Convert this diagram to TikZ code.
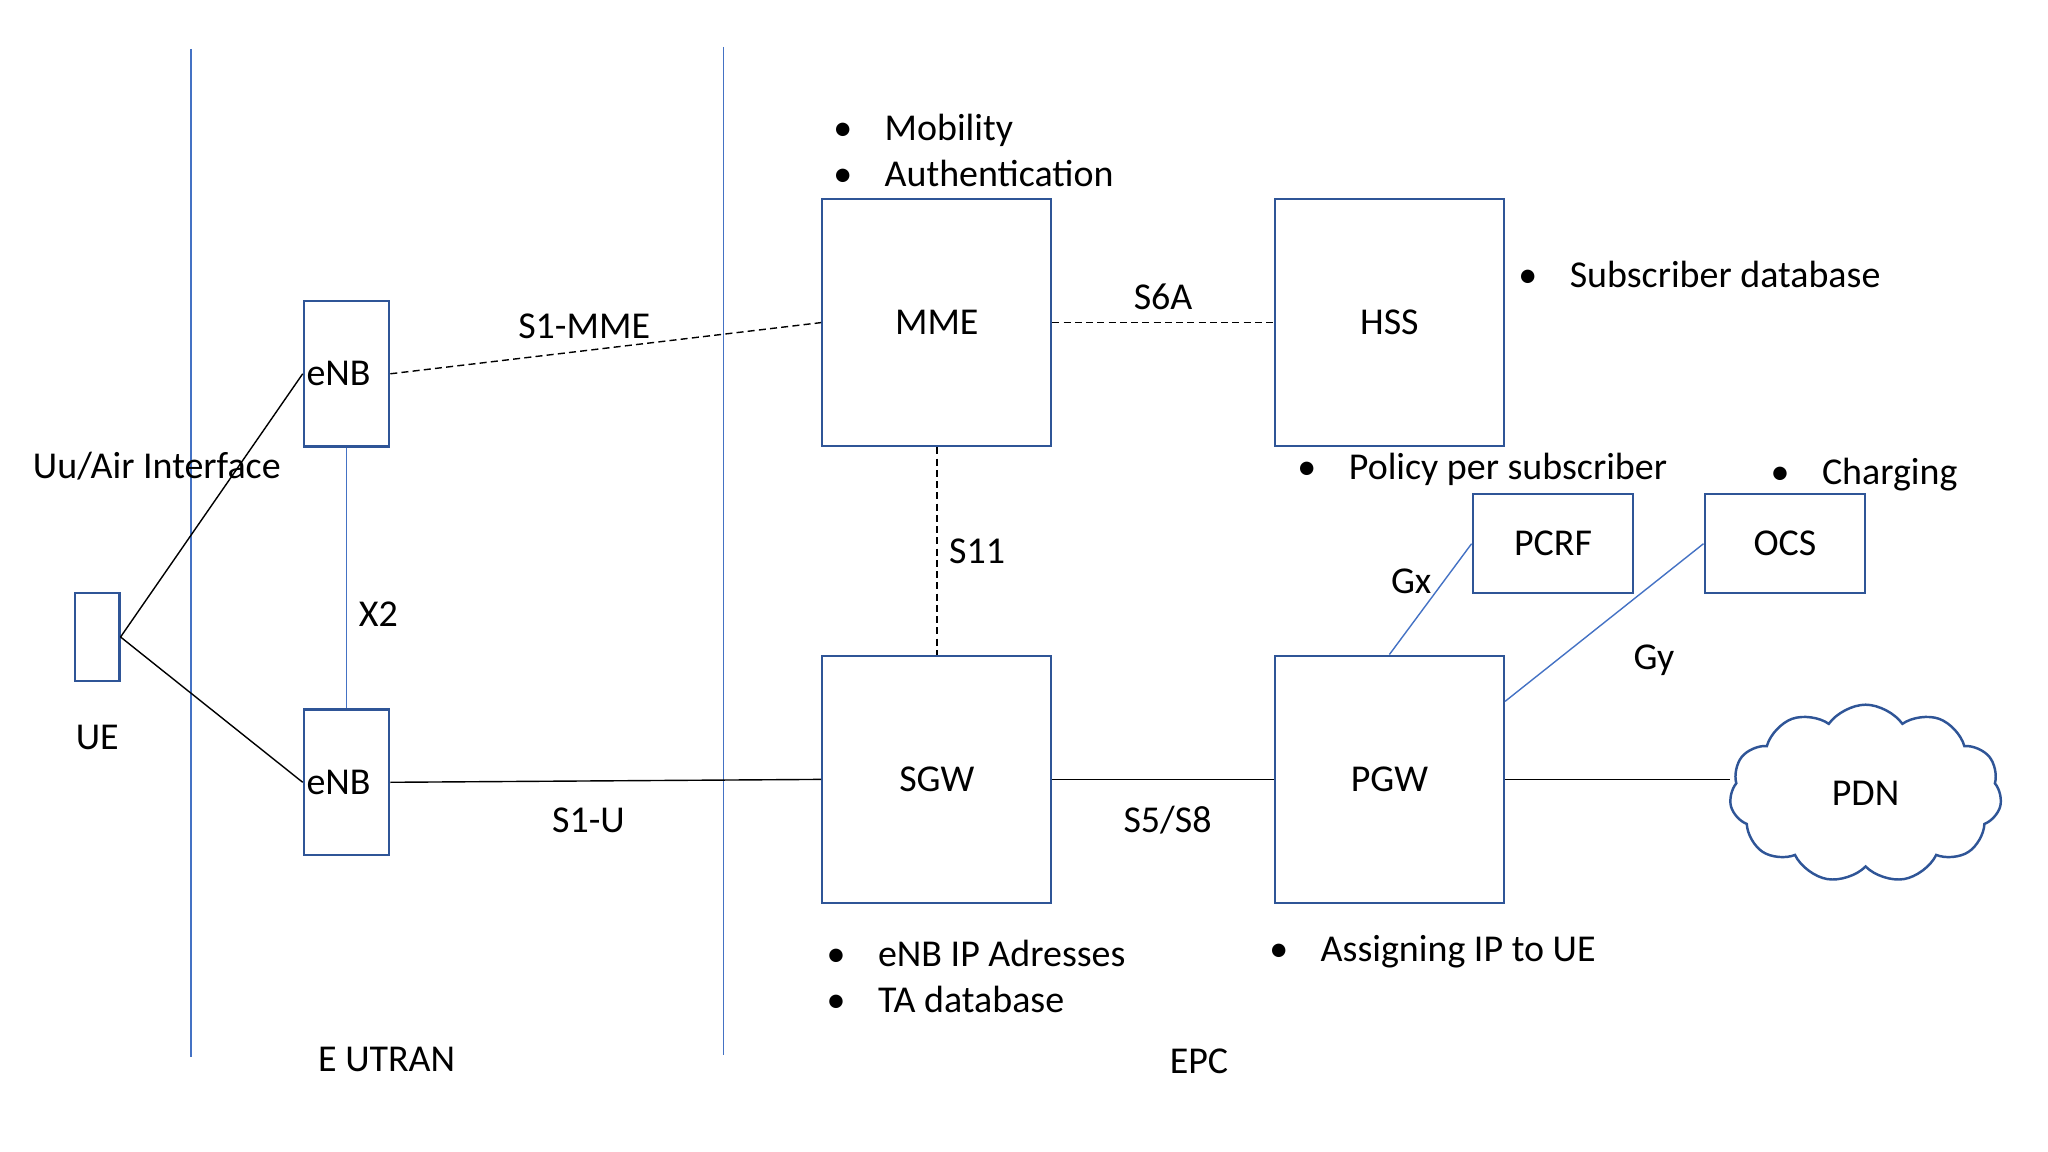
\documentclass[tikz,border=0pt]{standalone}
\usepackage{fontspec}
\setmainfont{Carlito}
\usepackage{tikz}
\usetikzlibrary{shapes.symbols}
\definecolor{boxblue}{HTML}{2F5597}
\definecolor{lineblue}{HTML}{4472C4}
\newcommand{\bul}{\makebox[0.514cm][l]{\textbullet}}
\tikzstyle{ue} = [
    rectangle,
    minimum width=0.444cm, minimum height=0.874cm,
    inner sep=0pt,
    draw=boxblue, line width=0.6pt]
\tikzstyle{enb} = [
    rectangle,
    minimum width=0.855cm, minimum height=1.455cm,
    inner sep=0pt, text width=0.8cm, align=left,
    draw=boxblue, line width=0.6pt]
\tikzstyle{core} = [
    rectangle,
    minimum width=2.292cm, minimum height=2.476cm,
    text centered,
    draw=boxblue, line width=0.6pt]
\tikzstyle{func} = [
    rectangle,
    minimum width=1.607cm, minimum height=0.992cm,
    text centered,
    draw=boxblue, line width=0.6pt]
\tikzstyle{network} = [
    cloud, cloud puffs=11, cloud puff arc=110, cloud ignores aspect,
    minimum width=2.72cm, minimum height=1.78cm,
    inner sep=0pt,
    draw=boxblue, line width=0.7pt]
\tikzstyle{notes} = [align=left, anchor=west, inner sep=0pt]
\tikzstyle{link} = [draw=black, line width=0.4pt]
\tikzstyle{ctrl} = [draw=black, line width=0.4pt, dash pattern=on 2pt off 1.2pt]
\tikzstyle{blink} = [draw=lineblue, line width=0.4pt]
\tikzstyle{sep} = [draw=lineblue, line width=0.5pt]

\begin{document}
\begin{tikzpicture}[node distance=2cm, font=\fontsize{10.8pt}{13pt}\selectfont]
        \useasboundingbox (0,0) rectangle (20.48,-11.52);

        % zone separators
        \draw [sep] (1.907,-0.489) -- (1.907,-10.57);
        \draw [sep] (7.236,-0.47) -- (7.236,-10.55);

        \node (ue) [ue] at (0.973,-6.37) {};
        \node (ue_label) [below of=ue, yshift=1cm] {UE};
        \node (air) [above of=ue, xshift=0.595cm, yshift=-0.296cm] {Uu/Air Interface};

        \node (enb1) [enb] at (3.465,-3.738) {eNB};
        \node (enb2) [enb, below of=enb1, yshift=-2.085cm] {eNB};

        \node (mme) [core] at (9.368,-3.226) {MME};
        \node (hss) [core, right of=mme, xshift=2.526cm] {HSS};
        \node (sgw) [core, below of=mme, yshift=-2.568cm] {SGW};
        \node (pgw) [core, right of=sgw, xshift=2.526cm] {PGW};

        \node (pcrf) [func, above of=pgw, xshift=1.636cm, yshift=0.357cm] {PCRF};
        \node (ocs) [func, right of=pcrf, xshift=0.319cm] {OCS};
        \node (pdn) [network, right of=pgw, xshift=2.762cm, yshift=-0.143cm] {PDN};

        % bullet notes
        \node (mme_info) [notes] at ([xshift=0.114cm, yshift=0.473cm]mme.north west) {\bul Mobility\\ \bul Authentication};
        \node (hss_info) [notes] at ([xshift=0.126cm, yshift=-0.767cm]hss.north east) {\bul Subscriber database};
        \node (pcrf_info) [notes] at ([xshift=0.23cm, yshift=-0.22cm]hss.south west) {\bul Policy per subscriber};
        \node (ocs_info) [notes] at ([xshift=0.664cm, yshift=0.184cm]ocs.north west) {\bul Charging};
        \node (sgw_info) [notes] at ([xshift=0.048cm, yshift=-0.725cm]sgw.south west) {\bul eNB IP Adresses\\ \bul TA database};
        \node (pgw_info) [notes] at ([xshift=-0.051cm, yshift=-0.47cm]pgw.south west) {\bul Assigning IP to UE};

        \node (eutran) at (3.867,-10.59) {E UTRAN};
        \node (epc) at (11.99,-10.61) {EPC};

        % interfaces
        \draw [link] (ue.east) -- (enb1.west);
        \draw [link] (ue.east) -- (enb2.west);
        \draw [blink] (enb1.south) -- node[anchor=west, pos=0.64] {X2} (enb2.north);
        \draw [ctrl] (enb1.east) -- node[anchor=south, pos=0.45] {S1-MME} (mme.west);
        \draw [link] (enb2.east) -- node[anchor=north, pos=0.46, yshift=-4pt] {S1-U} (sgw.west);
        \draw [ctrl] (mme.east) -- node[anchor=south] {S6A} (hss.west);
        \draw [ctrl] (mme.south) -- node[anchor=west] {S11} (sgw.north);
        \draw [link] (sgw.east) -- node[anchor=north, pos=0.52, yshift=-4pt] {S5/S8} (pgw.west);
        \draw [blink] (pgw.north) -- node[anchor=east, pos=0.66] {Gx} (pcrf.west);
        \draw [blink] (pgw.34) -- node[anchor=north west, pos=0.5, xshift=0.17cm, yshift=-0.1cm] {Gy} (ocs.west);
        \draw [link] (pgw.east) -- (pgw.east -| pdn.west);
    \end{tikzpicture}
\end{document}
